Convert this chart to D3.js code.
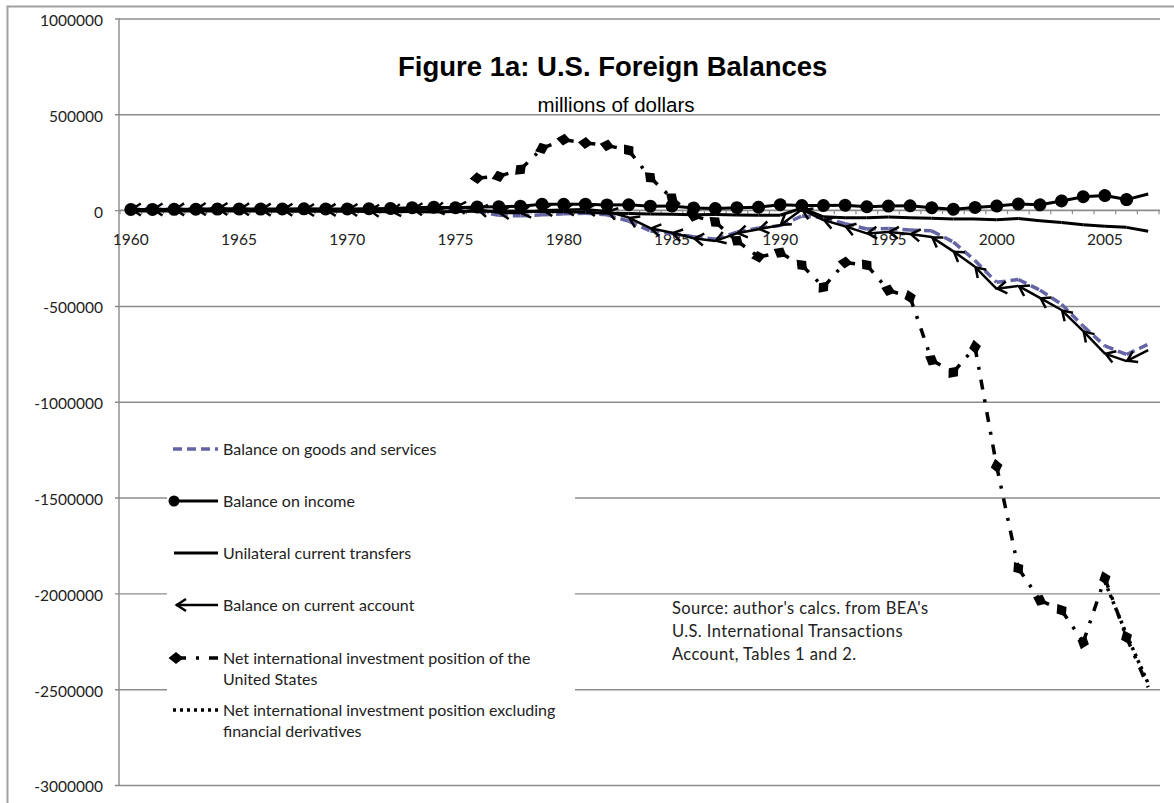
<!DOCTYPE html>
<html><head><meta charset="utf-8">
<script src="https://cdn.jsdelivr.net/npm/d3@7"></script>
<style>body{margin:0;background:#fff} svg{display:block}</style>
</head><body>
<svg id="chart" width="1174" height="803"></svg>
<script>
// ---------- data (millions of dollars) ----------
const years = [1960,1961,1962,1963,1964,1965,1966,1967,1968,1969,
  1970,1971,1972,1973,1974,1975,1976,1977,1978,1979,
  1980,1981,1982,1983,1984,1985,1986,1987,1988,1989,
  1990,1991,1992,1993,1994,1995,1996,1997,1998,1999,
  2000,2001,2002,2003,2004,2005,2006,2007];
const xTickLabels = ["1960","1965","1970","1975","1980","1985","1990","1995","2000","2005"];
const yTickValues = [1000000,500000,0,-500000,-1000000,-1500000,-2000000,-2500000,-3000000];

const goodsServices = [4892,5571,4521,5224,7819,5431,3031,2583,250,91,
  2254,-1303,-5443,1900,-4292,12404,-6082,-27246,-29763,-24565,
  -19407,-16172,-24156,-57767,-109072,-121880,-138538,-151684,-114566,-93141,
  -80864,-31135,-39212,-70311,-98493,-96384,-104065,-108273,-166140,-263160,
  -376749,-361771,-417432,-490984,-605357,-708624,-753283,-700000];
const incomeBalance = [3379,3884,4345,4637,5310,5729,5626,5922,6534,6000,
  6233,7272,8192,12153,15503,12787,16063,18137,20408,30873,
  30073,30566,27316,27996,20835,21264,11000,8000,13000,15000,
  28550,24131,23970,25316,17124,20891,22318,12609,4265,13888,
  21054,32000,27649,48000,70000,76000,55000,84000];
const currentTransfers = [-4062,-4127,-4277,-4392,-4240,-4583,-4955,-5294,-5629,-5735,
  -6156,-7402,-8544,-6913,-9249,-7075,-5686,-5226,-5788,-6593,
  -8349,-11702,-16544,-17310,-20335,-21998,-24132,-23265,-25274,-26169,
  -26654,10752,-35013,-39811,-40265,-36000,-40000,-42000,-46000,-46000,
  -50000,-44000,-56000,-65000,-76000,-84000,-90000,-110000];
const currentAccount = [2824,3822,3387,4414,6823,5431,3031,2583,611,399,
  2331,-1433,-5795,7140,1962,18116,4295,-14335,-15143,-285,
  2317,5030,-5536,-38691,-94344,-118155,-147177,-160655,-121153,-99486,
  -78968,2897,-51613,-84806,-121612,-113567,-124764,-140726,-215062,-295530,
  -410341,-395328,-458087,-521342,-631130,-748683,-788000,-731000];
const niip = [null,null,null,null,null,null,null,null,null,null,
  null,null,null,null,null,null,167000,176000,212000,322000,
  368000,350000,338000,312000,170000,62000,-30000,-62000,-160000,-244000,
  -222000,-287000,-402000,-273000,-287000,-418000,-454000,-783000,-846000,-715000,
  -1336000,-1869000,-2036000,-2088000,-2255000,-1921000,-2229000,-2490000];
const niipExDerivatives = [null,null,null,null,null,null,null,null,null,null,
  null,null,null,null,null,null,null,null,null,null,
  null,null,null,null,null,null,null,null,null,null,
  null,null,null,null,null,null,null,null,null,null,
  null,null,null,null,null,-1940000,-2215000,-2470000];

const seriesLabels = [
  ["Balance on goods and services"],
  ["Balance on income"],
  ["Unilateral current transfers"],
  ["Balance on current account"],
  ["Net international investment position of the","United States"],
  ["Net international investment position excluding","financial derivatives"]
];
const titleText = "Figure 1a: U.S. Foreign Balances";
const subtitleText = "millions of dollars";
const sourceLines = ["Source: author's calcs. from BEA's","U.S. International Transactions","Account, Tables 1 and 2."];

// ---------- styles ----------
const styles = [
  {values: goodsServices, color:"#6464a4", width:3.5, dash:"9,5", marker:null},
  {values: incomeBalance, color:"#000", width:3, dash:null, marker:"circle"},
  {values: currentTransfers, color:"#000", width:3, dash:null, marker:null},
  {values: currentAccount, color:"#000", width:2.5, dash:null, marker:"arrow"},
  {values: niip, color:"#000", width:3.5, dash:"10,10,3,10", marker:"diamond"},
  {values: niipExDerivatives, color:"#000", width:3.5, dash:"3,4", marker:null}
];

const svg = d3.select("#chart");
const W = 1174, H = 803;
const plot = {left:120, right:1159, top:18.5, bottom:785, gridL:119, gridR:1160};
const gridColor = "#8c8c8c";
const textColor = "#222";
const sansFont = "Lato, 'Open Sans', sans-serif";

svg.append("rect").attr("width",W).attr("height",H).attr("fill","#fff");

// outer frame
svg.append("path").attr("d",`M7.5,${H} V6.5 H${W}`).attr("fill","none")
  .attr("stroke","#a0a0a0").attr("stroke-width",2);

const x = d3.scaleBand().domain(years).range([plot.left, plot.right]);
const y = d3.scaleLinear().domain([-3000000,1000000]).range([plot.bottom, plot.top]);
const cx = yr => x(yr) + x.bandwidth()/2;

// markers
const defs = svg.append("defs");
function addMarker(id, build){
  const m = defs.append("marker").attr("id",id).attr("markerUnits","userSpaceOnUse")
    .attr("viewBox","-12 -12 24 24").attr("markerWidth",24).attr("markerHeight",24)
    .attr("refX",0).attr("refY",0).attr("orient","auto").style("overflow","visible");
  build(m);
}
addMarker("m-circle", m => m.append("circle").attr("r",6.5).attr("fill","#000"));
addMarker("m-circle-lg", m => m.append("circle").attr("r",5.5).attr("fill","#000"));
addMarker("m-arrow", m => m.append("path").attr("d","M10,-6 L0.8,0 L10,6")
  .attr("fill","none").attr("stroke","#000").attr("stroke-width",2.5));
addMarker("m-diamond", m => m.append("path").attr("d","M-7.5,0 L0,-6 L7.5,0 L0,6 Z").attr("fill","#000"));

// gridlines
const gridAxis = d3.axisRight(y).tickValues(yTickValues).tickSize(plot.gridR - 115).tickFormat("");
const gGrid = svg.append("g").attr("transform","translate(115,0)").call(gridAxis);
gGrid.select(".domain").remove();
gGrid.selectAll("line").attr("stroke",gridColor).attr("stroke-width",1.4);

// y axis line + labels
svg.append("line").attr("x1",plot.gridL).attr("x2",plot.gridL).attr("y1",y(1000000)).attr("y2",y(-3000000))
  .attr("stroke",gridColor).attr("stroke-width",1.4);
const yAxis = d3.axisLeft(y).tickValues(yTickValues).tickSize(0).tickPadding(16).tickFormat(d => String(d));
const gY = svg.append("g").attr("transform",`translate(${plot.gridL},0)`).call(yAxis);
gY.select(".domain").remove();
gY.selectAll("text").attr("font-family",sansFont).attr("font-size",15.5).attr("fill",textColor).attr("dy","0.45em");

// x axis at zero
const y0 = y(0);
svg.append("line").attr("x1",plot.gridL).attr("x2",plot.gridR).attr("y1",y0).attr("y2",y0)
  .attr("stroke",gridColor).attr("stroke-width",1.4);
svg.append("g").selectAll("line").data(years.concat(["end"])).join("line")
  .attr("x1",d => d==="end" ? plot.right : x(d)).attr("x2",d => d==="end" ? plot.right : x(d))
  .attr("y1",y0).attr("y2",y0+4).attr("stroke",gridColor).attr("stroke-width",1.2);
const xAxis = d3.axisBottom(x).tickValues(xTickLabels.map(Number)).tickSize(0).tickPadding(24);
const gX = svg.append("g").attr("transform",`translate(0,${y0})`).call(xAxis);
gX.select(".domain").remove();
gX.selectAll("text").attr("font-family",sansFont).attr("font-size",15.5).attr("fill",textColor);

// series: drawn segment by segment (each segment carries a begin marker)
const lineGen = d3.line().x(d => cx(d.year)).y(d => y(d.v));
styles.forEach((s, si) => {
  const g = svg.append("g").attr("class","series-"+si);
  const segs = [];
  for (let i = 0; i < years.length - 1; i++) {
    if (s.values[i] != null && s.values[i+1] != null)
      segs.push([{year:years[i], v:s.values[i]},{year:years[i+1], v:s.values[i+1]}]);
  }
  g.selectAll("path").data(segs).join("path")
    .attr("d", lineGen).attr("fill","none").attr("stroke",s.color)
    .attr("stroke-width",s.width).attr("stroke-dasharray",s.dash)
    .attr("marker-start", s.marker ? `url(#m-${s.marker})` : null);
});

// legend
const legend = svg.append("g");
legend.append("rect").attr("x",167).attr("y",425).attr("width",408).attr("height",330).attr("fill","#fff");
const legendRows = [449, 501, 553, 605, 658, 710];
const legendStart = [173, 174, 174, 176, 176, 173];
const legendMarkers = [null, "circle-lg", null, "arrow", "diamond", null];
styles.forEach((s, i) => {
  const yy = legendRows[i];
  legend.append("path").attr("d",`M${legendStart[i]},${yy} H218`).attr("fill","none")
    .attr("stroke",s.color).attr("stroke-width",s.width).attr("stroke-dasharray",s.dash)
    .attr("marker-start", legendMarkers[i] ? `url(#m-${legendMarkers[i]})` : null);
  seriesLabels[i].forEach((t, k) => {
    legend.append("text").attr("x",223).attr("y",yy + k*21.6).attr("dy","0.35em")
      .attr("font-family",sansFont).attr("font-size",16).attr("fill",textColor).text(t);
  });
});

// source note
sourceLines.forEach((t, k) => {
  svg.append("text").attr("x",672).attr("y",614 + k*23).attr("font-family",sansFont)
    .attr("font-size",16.5).attr("letter-spacing","0.4px").attr("fill",textColor).text(t);
});

// titles
svg.append("text").attr("x",398).attr("y",76).attr("text-anchor","start")
  .attr("font-family","'Liberation Sans', Arial, sans-serif").attr("font-weight","bold")
  .attr("font-size",27.5).attr("fill","#000").text(titleText);
svg.append("text").attr("x",616).attr("y",111.5).attr("text-anchor","middle")
  .attr("font-family","'Liberation Sans', Arial, sans-serif")
  .attr("font-size",20.5).attr("fill","#000").text(subtitleText);
</script>
</body></html>
